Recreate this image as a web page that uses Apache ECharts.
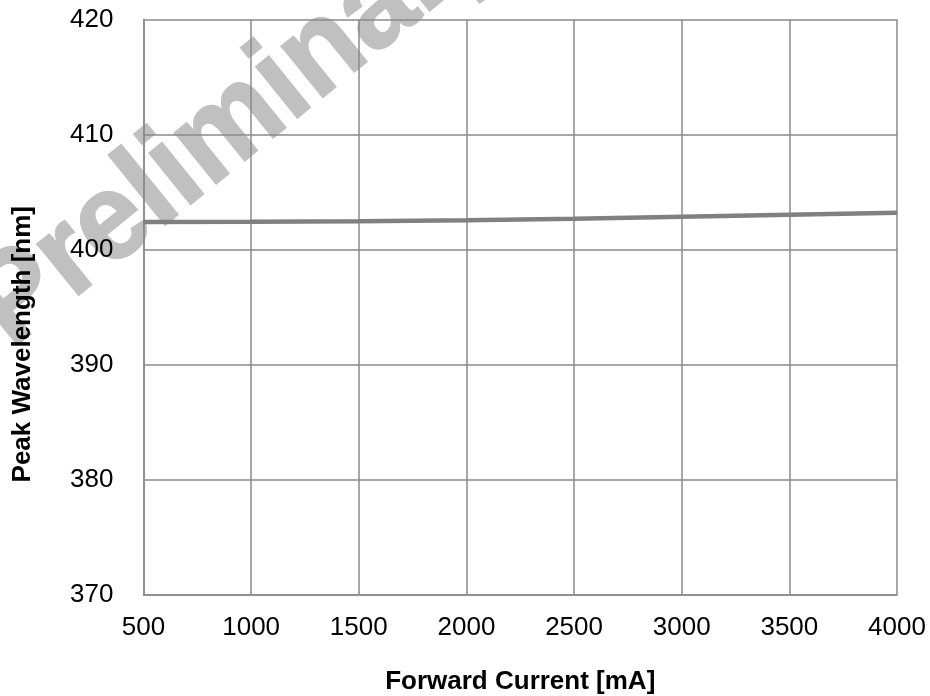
<!DOCTYPE html>
<html>
<head>
<meta charset="utf-8">
<title>Peak Wavelength vs Forward Current</title>
<script src="https://cdn.jsdelivr.net/npm/echarts@6/dist/echarts.min.js"></script>
<style>
  html, body { margin: 0; padding: 0; background: #fff; }
  #container { width: 930px; height: 696px; }
</style>
</head>
<body>
<div id="container"></div>
<script>
  // values
  let currents = [500, 1000, 1500, 2000, 2500, 3000, 3500, 4000];
  let wavelengths = [402.4, 402.42, 402.47, 402.55, 402.69, 402.87, 403.04, 403.21];
  let xTicks = [500, 4000, 500];   // min, max, interval
  let yTicks = [370, 420, 10];

  let font = 'Liberation Sans, Arial, sans-serif';
  let gridColor = '#8a8a8a';

  let seriesData = [];
  currents.forEach((c, i) => {
    seriesData.push([c, wavelengths[i]]);
  });

  let myChart = echarts.init(document.getElementById('container'));
  let option = {
    animation: false,
    grid: {
      left: 143.5,
      right: 33,
      top: 19.5,
      bottom: 101,
      outerBoundsMode: 'none'
    },
    graphic: [{
      // watermark, drawn under the grid
      type: 'text',
      z: -10,
      x: 239,
      y: 121,
      rotation: 39 * Math.PI / 180,
      scaleX: 0.95,
      silent: true,
      style: {
        text: 'Preliminary',
        font: 'bold 124px ' + font,
        fill: '#c0c0c0',
        stroke: '#c0c0c0',
        lineWidth: 2,
        align: 'center',
        verticalAlign: 'middle'
      }
    }],
    xAxis: {
      type: 'value',
      min: xTicks[0],
      max: xTicks[1],
      interval: xTicks[2],
      name: 'Forward Current [mA]',
      nameLocation: 'middle',
      nameGap: 74,
      nameTextStyle: {
        fontFamily: font,
        fontWeight: 'bold',
        fontSize: 26,
        color: '#000'
      },
      axisLine: {show: true, lineStyle: {color: gridColor, width: 1.5}},
      axisTick: {show: false},
      axisLabel: {
        margin: 20,
        fontFamily: font,
        fontSize: 26,
        color: '#000',
        formatter: function (v) {
          return String(v);
        }
      },
      splitLine: {show: true, lineStyle: {color: gridColor, width: 1.5}}
    },
    yAxis: {
      type: 'value',
      min: yTicks[0],
      max: yTicks[1],
      interval: yTicks[2],
      name: 'Peak Wavelength [nm]',
      nameLocation: 'middle',
      nameGap: 108,
      nameTextStyle: {
        fontFamily: font,
        fontWeight: 'bold',
        fontSize: 26,
        color: '#000',
        padding: [0, 74, 0, 0]
      },
      axisLine: {show: true, lineStyle: {color: gridColor, width: 1.5}},
      axisTick: {show: false},
      axisLabel: {
        margin: 30,
        fontFamily: font,
        fontSize: 26,
        color: '#000',
        formatter: function (v) {
          return String(v);
        }
      },
      splitLine: {show: true, lineStyle: {color: gridColor, width: 1.5}}
    },
    series: [{
      type: 'line',
      data: seriesData,
      showSymbol: false,
      smooth: false,
      lineStyle: {color: '#808080', width: 4.5},
      z: 10
    }]
  };
  myChart.setOption(option, true);
</script>
</body>
</html>
